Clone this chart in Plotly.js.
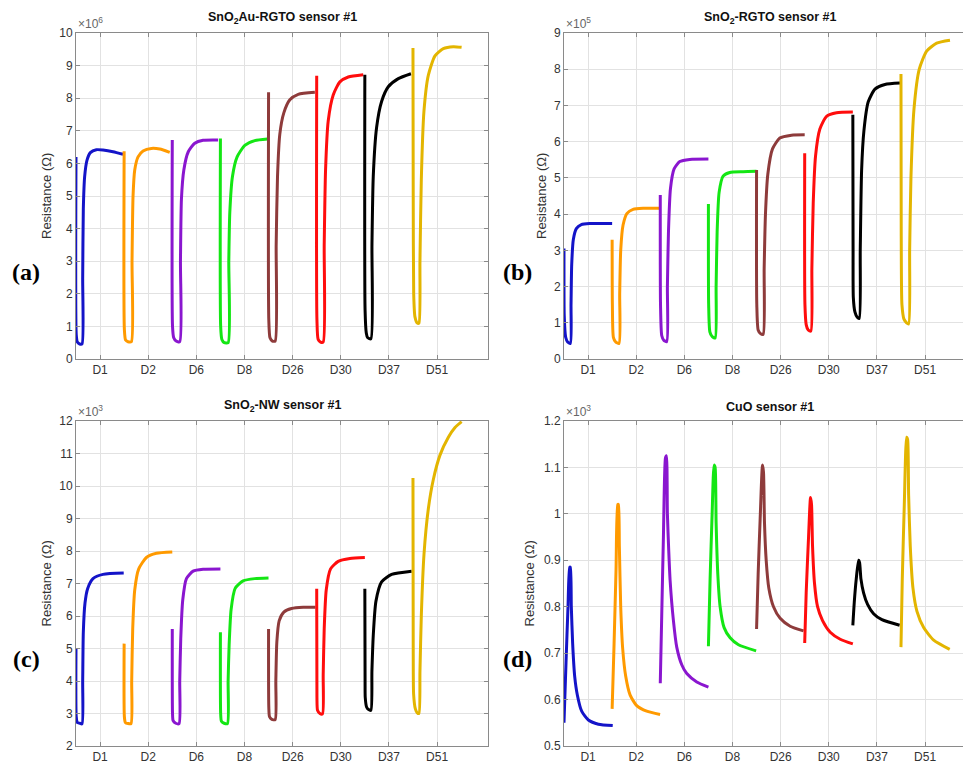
<!DOCTYPE html>
<html><head><meta charset="utf-8">
<script src="https://cdn.plot.ly/plotly-3.0.1.min.js"></script>
<style>html,body{margin:0;padding:0;background:#fff}</style>
</head><body><div id="chart" style="width:963px;height:764px"></div>
<script>
const categories = ['D1','D2','D6','D8','D26','D30','D37','D51'];
const seriesColors = ['#1414c8','#ff9a00','#8a16cf','#14e614','#8e3b3b','#ff0d0d','#000000','#e3b500'];

// (a) SnO2Au-RGTO, R x10^6 ohm ; time = fraction of each test window
const aTime = [
 [0,0.005,0.028,0.076,0.125,0.139,0.152,0.18,0.229,0.298,0.423,0.561,0.769,0.977],
 [0,0.005,0.03,0.08,0.15,0.164,0.185,0.22,0.289,0.393,0.566,0.74,0.947],
 [0,0.005,0.03,0.08,0.155,0.17,0.19,0.24,0.33,0.467,0.64,0.952],
 [0,0.005,0.03,0.08,0.16,0.174,0.195,0.25,0.347,0.506,0.714,0.977],
 [0,0.005,0.03,0.08,0.137,0.158,0.186,0.234,0.317,0.442,0.615,0.962],
 [0,0.005,0.03,0.08,0.135,0.156,0.184,0.239,0.343,0.482,0.655,0.967],
 [0,0.005,0.03,0.06,0.126,0.148,0.175,0.244,0.348,0.487,0.695,0.958],
 [0,0.005,0.015,0.04,0.09,0.124,0.145,0.173,0.228,0.318,0.457,0.63,0.838,1.01]
];
const aRes = [
 [6.2,0.75,0.52,0.46,0.46,2.5,4.6,5.6,6.1,6.33,6.42,6.41,6.36,6.28],
 [6.37,0.9,0.58,0.53,0.53,3.0,5.0,5.8,6.2,6.38,6.46,6.44,6.34],
 [6.72,1.0,0.65,0.55,0.53,3.0,4.9,5.8,6.35,6.62,6.71,6.72],
 [6.76,1.0,0.6,0.5,0.5,3.0,4.5,5.6,6.2,6.55,6.7,6.75],
 [8.18,1.2,0.65,0.55,0.55,3.5,5.6,6.9,7.55,7.95,8.12,8.18],
 [8.69,1.2,0.6,0.52,0.52,3.5,5.8,7.3,8.1,8.5,8.65,8.72],
 [8.72,1.5,0.8,0.65,0.62,3.5,5.6,7.1,7.9,8.35,8.6,8.75],
 [9.54,5.0,2.0,1.3,1.1,1.1,3.0,5.5,7.6,8.7,9.3,9.52,9.58,9.56]
];

// (b) SnO2-RGTO, R x10^5 ohm
const bTime = [
 [0,0.005,0.035,0.076,0.132,0.146,0.16,0.194,0.256,0.36,0.534,1.0],
 [0,0.005,0.026,0.074,0.143,0.157,0.178,0.227,0.31,0.435,0.643,0.976],
 [0,0.005,0.03,0.072,0.134,0.148,0.17,0.211,0.287,0.405,0.612,1.0],
 [0,0.005,0.03,0.077,0.14,0.16,0.181,0.222,0.305,0.443,0.72,0.998],
 [0,0.005,0.033,0.082,0.137,0.158,0.185,0.234,0.331,0.483,0.726,1.0],
 [0,0.005,0.031,0.073,0.128,0.149,0.177,0.225,0.315,0.454,0.662,1.0],
 [0,0.005,0.01,0.043,0.092,0.133,0.154,0.182,0.23,0.32,0.459,0.667,0.979],
 [0,0.005,0.02,0.062,0.117,0.159,0.18,0.207,0.27,0.38,0.533,0.741,1.018]
];
const bRes = [
 [3.05,1.2,0.6,0.47,0.43,1.5,2.6,3.3,3.6,3.71,3.74,3.74],
 [3.29,1.5,0.6,0.47,0.43,1.8,3.0,3.7,4.02,4.13,4.16,4.16],
 [4.53,1.5,0.65,0.52,0.48,2.0,3.5,4.7,5.25,5.45,5.51,5.52],
 [4.28,1.5,0.75,0.62,0.58,2.0,3.5,4.6,5.05,5.15,5.17,5.18],
 [5.22,1.5,0.8,0.7,0.68,2.5,4.0,5.1,5.8,6.1,6.18,6.19],
 [5.68,1.5,0.95,0.8,0.77,2.5,4.3,5.6,6.35,6.7,6.8,6.82],
 [6.74,3.0,1.7,1.3,1.15,1.12,3.0,5.2,6.3,7.1,7.45,7.58,7.62],
 [7.87,3.5,1.5,1.1,1.0,0.97,3.0,5.0,6.9,8.0,8.5,8.72,8.8]
];

// (c) SnO2-NW, R x10^3 ohm
const cTime = [
 [0,0.005,0.028,0.076,0.125,0.139,0.152,0.187,0.243,0.353,0.561,0.991],
 [0,0.005,0.026,0.081,0.143,0.157,0.178,0.22,0.303,0.462,0.67,1.0],
 [0,0.005,0.017,0.072,0.141,0.155,0.176,0.218,0.294,0.433,0.64,1.0],
 [0,0.005,0.021,0.077,0.146,0.16,0.181,0.222,0.306,0.472,0.714,0.999],
 [0,0.005,0.02,0.068,0.137,0.151,0.172,0.22,0.317,0.477,0.719,0.975],
 [0,0.005,0.017,0.066,0.121,0.135,0.156,0.198,0.288,0.447,0.69,1.0],
 [0,0.005,0.008,0.036,0.078,0.126,0.147,0.175,0.23,0.348,0.556,0.972],
 [0,0.005,0.013,0.048,0.089,0.124,0.145,0.173,0.229,0.319,0.423,0.561,0.735,0.873,1.01]
];
const cRes = [
 [5.0,2.9,2.72,2.7,2.68,4.0,5.5,6.4,6.85,7.15,7.28,7.32],
 [5.15,2.9,2.72,2.69,2.69,4.0,5.6,6.8,7.45,7.8,7.93,7.97],
 [5.6,3.0,2.78,2.7,2.69,4.0,5.3,6.5,7.15,7.38,7.44,7.45],
 [5.5,3.0,2.76,2.7,2.69,4.0,5.1,6.2,6.85,7.08,7.15,7.17],
 [5.6,3.2,2.9,2.82,2.81,4.0,5.2,5.85,6.12,6.23,6.27,6.27],
 [6.84,3.5,3.1,3.0,2.99,4.2,5.6,6.8,7.45,7.68,7.77,7.8],
 [6.84,4.0,3.5,3.2,3.12,3.1,4.3,5.4,6.45,7.05,7.28,7.38],
 [10.25,5.0,3.6,3.15,3.02,3.0,4.3,6.0,7.9,9.3,10.2,10.95,11.5,11.8,11.98]
];

// (d) CuO, R x10^3 ohm
const dTime = [
 [0,0.042,0.083,0.118,0.132,0.152,0.18,0.222,0.277,0.367,0.506,0.714,1.012],
 [0,0.04,0.081,0.116,0.13,0.15,0.178,0.219,0.282,0.372,0.51,0.718,0.996],
 [0,0.03,0.065,0.107,0.128,0.148,0.176,0.204,0.273,0.342,0.446,0.55,0.758,1.0],
 [0,0.035,0.077,0.118,0.139,0.16,0.195,0.243,0.326,0.451,0.624,0.991],
 [0,0.033,0.075,0.123,0.144,0.165,0.2,0.255,0.352,0.49,0.698,0.975],
 [0,0.031,0.08,0.121,0.142,0.163,0.204,0.267,0.371,0.53,0.738,1.0],
 [0,0.03,0.071,0.119,0.14,0.168,0.223,0.306,0.431,0.604,0.972],
 [0,0.027,0.069,0.117,0.138,0.159,0.193,0.249,0.332,0.471,0.679,1.012]
];
const dRes = [
 [0.55,0.68,0.8,0.885,0.885,0.8,0.72,0.65,0.61,0.575,0.556,0.547,0.544],
 [0.58,0.72,0.88,1.02,1.02,0.93,0.8,0.71,0.65,0.61,0.587,0.575,0.568],
 [0.635,0.78,0.95,1.12,1.125,1.0,0.92,0.857,0.77,0.713,0.675,0.656,0.638,0.627],
 [0.715,0.86,1.0,1.105,1.1,0.98,0.87,0.8,0.755,0.733,0.718,0.705],
 [0.752,0.87,0.99,1.105,1.09,0.98,0.9,0.84,0.8,0.775,0.758,0.748],
 [0.722,0.83,0.95,1.035,1.02,0.93,0.85,0.8,0.77,0.745,0.73,0.72],
 [0.76,0.81,0.86,0.9,0.895,0.86,0.83,0.805,0.785,0.772,0.76],
 [0.713,0.86,1.02,1.165,1.16,1.04,0.93,0.84,0.79,0.755,0.728,0.708]
];

const panelTitles = ['SnO<sub>2</sub>Au-RGTO sensor #1','SnO<sub>2</sub>-RGTO sensor #1','SnO<sub>2</sub>-NW sensor #1','CuO sensor #1'];
const panelExponents = ['6','5','3','3'];
const panelLetters = ['a','b','c','d'];

const W = 963, H = 764;
const px = v => v / W;
const py = v => 1 - v / H;
const FONT = 'Liberation Sans, Arial, sans-serif';

const times = [aTime, bTime, cTime, dTime];
const values = [aRes, bRes, cRes, dRes];
const traces = [];
for (let p = 0; p < 4; p++) {
  const sfx = p === 0 ? '' : String(p + 1);
  for (let i = 0; i < categories.length; i++) {
    traces.push({
      type: 'scatter', mode: 'lines',
      x: times[p][i].map(t => i + 0.5 + t),
      y: values[p][i],
      xaxis: 'x' + sfx, yaxis: 'y' + sfx,
      line: {color: seriesColors[i], width: 3, shape: 'spline', smoothing: 0.6},
      showlegend: false, hoverinfo: 'skip'
    });
  }
}

// pixel boxes of the four axes [left, right, top, bottom]
const boxes = [[76, 488, 33, 359], [564, 963, 33, 359], [76, 488, 421, 746], [564, 963, 421, 746]];
const yRanges = [[0, 10], [0, 9], [2, 12], [0.5, 1.2]];
const yDticks = [1, 1, 1, 0.1];
const stepPx = 48.14;

const layout = {
  width: W, height: H, margin: {l: 0, r: 0, t: 0, b: 0},
  paper_bgcolor: '#ffffff', plot_bgcolor: '#ffffff',
  showlegend: false, annotations: []
};
for (let p = 0; p < 4; p++) {
  const [l, r, t, b] = boxes[p];
  const sfx = p === 0 ? '' : String(p + 1);
  const full = p % 2 === 0;
  layout['xaxis' + sfx] = {
    domain: [px(l), px(r)], range: [0.5, 0.5 + (r - l) / stepPx],
    anchor: 'y' + sfx, tickmode: 'array', tickvals: categories.map((c, i) => i + 1), ticktext: categories,
    showline: true, linecolor: '#8a8a8a', linewidth: 1, mirror: 'ticks',
    ticks: 'inside', ticklen: 4, tickcolor: '#8a8a8a',
    showgrid: true, gridcolor: '#e2e2e2', zeroline: false,
    tickfont: {family: FONT, size: 12, color: '#333'}
  };
  layout['yaxis' + sfx] = {
    domain: [py(b), py(t)], range: yRanges[p], dtick: yDticks[p], tick0: yRanges[p][0],
    anchor: 'x' + sfx,
    showline: true, linecolor: '#8a8a8a', linewidth: 1, mirror: full ? 'ticks' : false,
    ticks: 'inside', ticklen: 4, tickcolor: '#8a8a8a',
    showgrid: true, gridcolor: '#e2e2e2', zeroline: false,
    tickfont: {family: FONT, size: 12, color: '#333'}
  };
  const cx = l + 206;
  layout.annotations.push({
    xref: 'paper', yref: 'paper', x: px(cx), y: py(t - 5), xanchor: 'center', yanchor: 'bottom',
    text: '<b>' + panelTitles[p] + '</b>', showarrow: false,
    font: {family: FONT, size: 12.5, color: '#111'}
  });
  layout.annotations.push({
    xref: 'paper', yref: 'paper', x: px(l), y: py(t), xanchor: 'left', yanchor: 'bottom',
    text: '×10<sup>' + panelExponents[p] + '</sup>', showarrow: false,
    font: {family: FONT, size: 12, color: '#666'}
  });
  layout.annotations.push({
    xref: 'paper', yref: 'paper', x: px(l - (p === 3 ? 35 : (p === 1 ? 23 : 30))), y: py((t + b) / 2),
    xanchor: 'center', yanchor: 'middle', textangle: -90,
    text: 'Resistance (Ω)', showarrow: false,
    font: {family: FONT, size: 13, color: '#333'}
  });
  layout.annotations.push({
    xref: 'paper', yref: 'paper', x: px(l - (p % 2 === 0 ? 50 : 47)), y: py(p < 2 ? 272 : 659),
    xanchor: 'center', yanchor: 'middle',
    text: '<b>(' + panelLetters[p] + ')</b>', showarrow: false,
    font: {family: 'Liberation Serif, Times New Roman, serif', size: 24, color: '#000'}
  });
}

Plotly.newPlot('chart', traces, layout, {staticPlot: true, displayModeBar: false});
</script>
</body></html>
